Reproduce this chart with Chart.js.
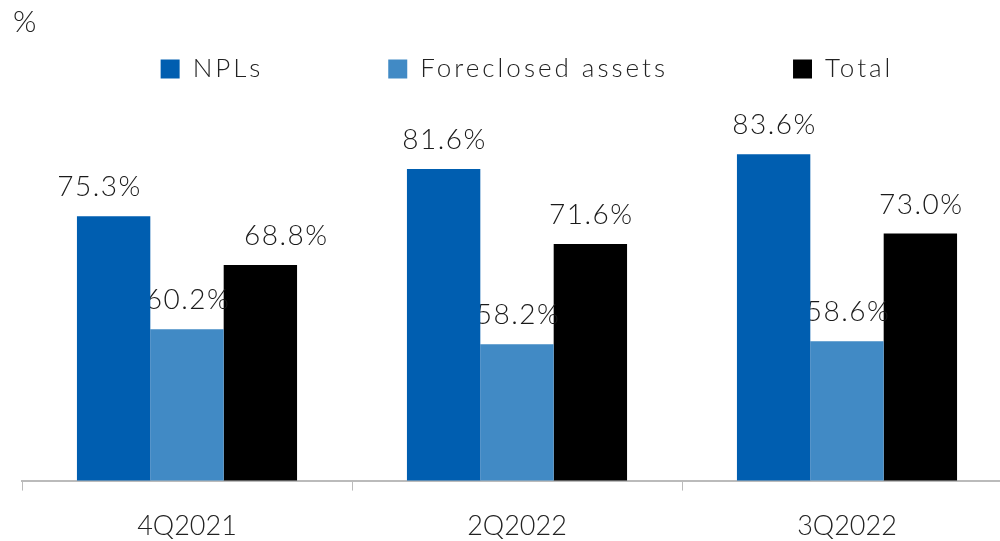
<!DOCTYPE html>
<html>
<head>
<meta charset="utf-8">
<script src="https://cdn.jsdelivr.net/npm/chart.js@4/dist/chart.umd.min.js"></script>
<style>
  html, body { margin: 0; padding: 0; background: #fff; overflow: hidden; }
  #wrap { position: relative; width: 1012px; height: 541px; }
</style>
</head>
<body>
<div id="wrap"><canvas id="chart"></canvas></div>
<script>
// Data
const quarters = ['4Q2021', '2Q2022', '3Q2022'];
const nplValues = [75.3, 81.6, 83.6];
const foreclosedValues = [60.2, 58.2, 58.6];
const totalValues = [68.8, 71.6, 73.0];
const seriesNames = ['NPLs', 'Foreclosed assets', 'Total'];

const FONT = "Lato, 'Open Sans', 'DejaVu Sans', sans-serif";
const colors = ['#005eb0', '#418ac5', '#000000'];
// small nudges of value labels in the first group (as in the reference)
const labelShift = [[-15, 0, 0], [0, 0, 0], [25, 0, 0]];

// wider letter spacing for the legend, the reference font runs wide
const legendSpacing = {
    id: 'legendSpacing',
    beforeLayout(chart) {
        const lg = chart.legend;
        if (!lg || lg._spaced) return;
        lg._spaced = true;
        const fit = lg.fit, draw = lg.draw;
        lg.fit = function () {
            this.ctx.save();
            this.ctx.letterSpacing = '3px';
            fit.call(this);
            this.ctx.restore();
        };
        lg.draw = function () {
            this.ctx.save();
            this.ctx.letterSpacing = '3px';
            this.ctx.translate(10, 0);
            draw.call(this);
            this.ctx.restore();
        };
    }
};

// value labels drawn right after each dataset, so the next bars can cover them
const valueLabels = {
    id: 'valueLabels',
    afterDatasetDraw(chart, args) {
        const ctx = chart.ctx;
        const ds = chart.data.datasets[args.index];
        ctx.save();
        ctx.font = `300 28px ${FONT}`;
        ctx.letterSpacing = '1.5px';
        ctx.fillStyle = '#1a1a1a';
        ctx.textAlign = 'center';
        ctx.textBaseline = 'alphabetic';
        args.meta.data.forEach((bar, i) => {
            const shift = labelShift[args.index][i] || 0;
            ctx.fillText(ds.data[i].toFixed(1) + '%', bar.x + shift + 1, bar.y - 20);
        });
        ctx.restore();
    },
    afterDraw(chart) {
        const ctx = chart.ctx;
        ctx.save();
        ctx.font = `300 30px ${FONT}`;
        ctx.fillStyle = '#222';
        ctx.textAlign = 'left';
        ctx.textBaseline = 'top';
        ctx.fillText('%', 13, 7);
        ctx.restore();
    }
};

const datasets = [nplValues, foreclosedValues, totalValues].map((vals, idx) => ({
    label: seriesNames[idx],
    data: vals,
    backgroundColor: colors[idx],
    borderWidth: 0,
    categoryPercentage: 0.667,
    barPercentage: 1.0
}));

new Chart(document.getElementById('chart'), {
    type: 'bar',
    data: { labels: quarters, datasets },
    plugins: [legendSpacing, valueLabels],
    options: {
        responsive: true,
        maintainAspectRatio: false,
        animation: false,
        layout: { padding: { top: -69, left: 22, right: 0, bottom: -20 } },
        plugins: {
            legend: {
                position: 'top',
                labels: {
                    boxWidth: 19,
                    boxHeight: 19,
                    padding: 125,
                    color: '#222',
                    font: { family: FONT, size: 26, weight: '300' }
                }
            },
            tooltip: { enabled: false }
        },
        scales: {
            y: {
                display: false,
                min: 40,
                max: 91.9
            },
            x: {
                offset: true,
                border: { color: '#bbbbbb', width: 2 },
                grid: {
                    offset: true,
                    drawOnChartArea: false,
                    drawTicks: true,
                    tickLength: 10,
                    color: '#bbbbbb',
                    lineWidth: 1
                },
                ticks: {
                    padding: 19,
                    color: '#222',
                    font: { family: FONT, size: 27, weight: '300' }
                }
            }
        }
    }
});
</script>
</body>
</html>
